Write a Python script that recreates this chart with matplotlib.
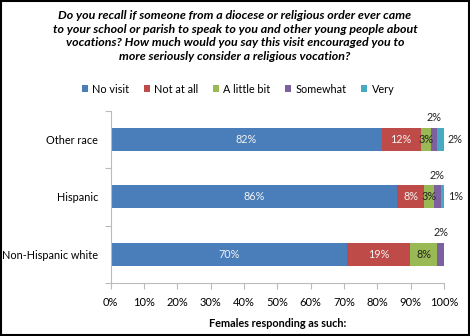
import matplotlib.pyplot as plt
from matplotlib.patches import Rectangle

plt.rcParams['font.family'] = ['Lato', 'DejaVu Sans']

# categories bottom -> top
groups = ['Non-Hispanic white', 'Hispanic', 'Other race']
responses = ['No visit', 'Not at all', 'A little bit', 'Somewhat', 'Very']
colors = ['#4a7ebb', '#be4b48', '#98b954', '#7d60a0', '#46aac5']

# bar widths (percent)
no_visit = [70.8, 86.0, 81.3]
not_at_all = [19.0, 8.0, 11.7]
little_bit = [8.2, 3.0, 3.0]
somewhat = [2.0, 2.0, 2.0]
very = [0.0, 1.0, 2.0]
# printed labels
label_vals = [
    [70, 86, 82],
    [19, 8, 12],
    [8, 3, 3],
    [2, 2, 2],
    [None, 1, 2],
]

series = [no_visit, not_at_all, little_bit, somewhat, very]
ticks = [0, 10, 20, 30, 40, 50, 60, 70, 80, 90, 100]

title = ("Do you recall if someone from a diocese or religious order ever came\n"
         "to your school or parish to speak to you and other young people about\n"
         "vocations? How much would you say this visit encouraged you to\n"
         "more seriously consider a religious vocation?")

fig = plt.figure(figsize=(4.7, 3.36), dpi=100)
ax = fig.add_axes([110.7 / 470, 1 - 283 / 336, 333.3 / 470, 172.5 / 336])

left = [0.0] * len(groups)
for k, vals in enumerate(series):
    ax.barh(range(len(groups)), vals, left=left, height=0.4, color=colors[k],
            label=responses[k], edgecolor='none')
    for i, v in enumerate(vals):
        lab = label_vals[k][i]
        if lab is None:
            continue
        cx = left[i] + v / 2
        if k in (0, 1):
            ax.text(cx, i, f'{lab}%', ha='center', va='center', fontsize=7.8,
                    color='#f2f2f2')
        elif k == 2:
            ax.text(cx, i, f'{lab}%', ha='center', va='center', fontsize=7.8,
                    color='#222222')
        elif k == 3:
            ax.text(cx, i + 0.37, f'{lab}%', ha='center', va='center',
                    fontsize=7.8, color='#222222')
        else:
            ax.text(left[i] + v + 1.2, i, f'{lab}%', ha='left', va='center',
                    fontsize=7.8, color='#222222')
    left = [a + b for a, b in zip(left, vals)]

ax.set_xlim(0, 100)
ax.set_ylim(-0.5, 2.5)
ax.set_xticks(ticks)
ax.set_xticklabels([f'{t}%' for t in ticks], fontsize=8)
ax.set_yticks([-0.5, 0.5, 1.5, 2.5])
ax.set_yticklabels([])
ax.set_yticks(range(len(groups)), labels=groups, minor=True)
ax.tick_params(axis='y', which='minor', length=0, labelsize=7.8, pad=9)
ax.tick_params(axis='y', which='major', length=4, color='#bbbbbb')
ax.tick_params(axis='x', length=4, color='#bbbbbb', pad=6)
for s in ['top', 'right']:
    ax.spines[s].set_visible(False)
for s in ['left', 'bottom']:
    ax.spines[s].set_color('#bbbbbb')
ax.set_xlabel('Females responding as such:', fontsize=7.8, fontweight='bold',
              labelpad=7)

fig.text(235 / 470, 1 - 10 / 336, title, ha='center', va='top', fontsize=8.9,
         fontstyle='italic', fontweight='bold', linespacing=1.28)

ax.legend(loc='center', bbox_to_anchor=((238 - 110.7) / 333.3, (283 - 89) / 172.5),
          ncol=5, frameon=False, fontsize=7.8, handlelength=0.6,
          handleheight=0.6, handletextpad=0.4, columnspacing=1.3)

fig.patches.append(Rectangle((0.003, 0.004), 0.994, 0.992, transform=fig.transFigure,
                             fill=False, edgecolor='black', linewidth=1.5))

fig.savefig('out.png', dpi=100)
